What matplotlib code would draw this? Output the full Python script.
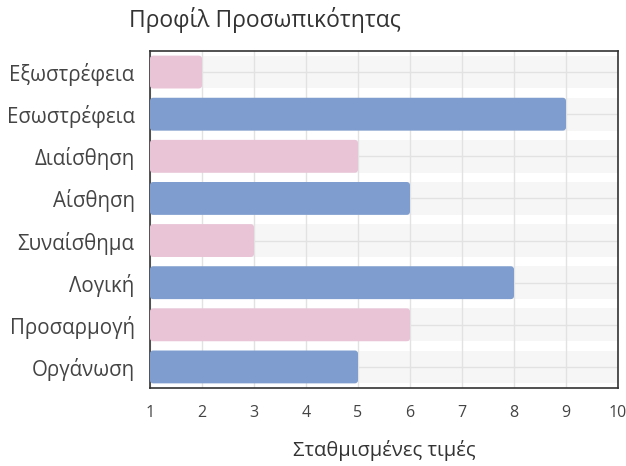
import matplotlib
matplotlib.use("Agg")
import matplotlib.pyplot as plt
from matplotlib.patches import FancyBboxPatch

plt.rcParams['font.family'] = ['Open Sans', 'DejaVu Sans']

categories = ["Εξωστρέφεια", "Εσωστρέφεια", "Διαίσθηση", "Αίσθηση",
              "Συναίσθημα", "Λογική", "Προσαρμογή", "Οργάνωση"]
values = [2, 9, 5, 6, 3, 8, 6, 5]
colors = ["#e9c3d6", "#7f9ecf", "#e9c3d6", "#7f9ecf",
          "#e9c3d6", "#7f9ecf", "#e9c3d6", "#7f9ecf"]
x_ticks = [1, 2, 3, 4, 5, 6, 7, 8, 9, 10]
title = "Προφίλ Προσωπικότητας"
xlabel = "Σταθμισμένες τιμές"
base = 1

fig = plt.figure(figsize=(6.26, 4.66), dpi=100)
ax = fig.add_axes([150/626, 1-388/466, 468/626, 337/466])

ypos = list(range(len(categories)))
h = 0.78
for y in ypos:
    ax.axhspan(y - h/2, y + h/2, color="#f6f6f6", zorder=0, lw=0)

bars = ax.barh(ypos, [v - base for v in values], left=base, height=h,
               color=colors, zorder=3)
for b, c in zip(bars, colors):
    x0, y0 = b.get_x(), b.get_y()
    w, hh = b.get_width(), b.get_height()
    b.set_visible(False)
    p = FancyBboxPatch((x0, y0), w, hh,
                       boxstyle="round,pad=0,rounding_size=0.06",
                       mutation_aspect=52/42.1,
                       facecolor=c, edgecolor="none", zorder=3)
    ax.add_patch(p)

ax.set_xlim(1, 10)
ax.set_ylim(len(categories) - 0.5, -0.5)
ax.set_xticks(x_ticks)
ax.set_yticks(ypos)
ax.set_yticklabels(categories, fontsize=14.8, color="#444444")
ax.tick_params(axis='x', labelsize=11.5, colors="#444444", length=0, pad=12)
ax.tick_params(axis='y', length=0, pad=11)
ax.grid(True, color="#e2e2e2", lw=1, zorder=1)
ax.set_axisbelow(True)
for s in ax.spines.values():
    s.set_color("#333333")
    s.set_linewidth(1.2)

fig.text(265/626, 1-20/466, title, ha="center", va="center",
         fontsize=16.5, color="#333333")
ax.set_xlabel(xlabel, fontsize=14.5, color="#333333", labelpad=14)

fig.savefig("out.png", dpi=100)
